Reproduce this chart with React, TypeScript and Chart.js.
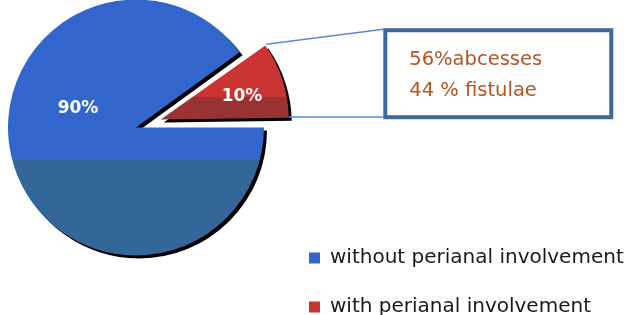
import { useEffect, useRef } from "react";
import { Chart, registerables } from "chart.js";

Chart.register(...registerables);

// ---- data ----
const categories = ["without perianal involvement", "with perianal involvement"];
const values = [90, 10];
const calloutLines = ["56%abcesses", "44 % fistulae"];

// ---- style ----
const TOP_COLORS = ["#3366CC", "#CC3333"];
const BOTTOM_COLORS = ["#336699", "#993333"];
const SPLIT = [0.627, 0.7];
const EXPLODE = [0, 104]; // Chart.js draws offset/4 => 26px
const RADIUS = 128;
const ROTATION = 90;
const LABEL_POS = [
  [-0.453, -0.148],
  [0.635, -0.176],
];
const FONT = '"DejaVu Sans"';
const LEGEND_FONT_SIZE = 20;
const LEGEND_PAD = 29;
const LEGEND_BOX = 11;
const PIE_AREA_W = 288;
const SHIFT_X = 8;
const SHIFT_Y = 91;
const CW = 700;
const CH = 437;

function sliceAngles(i: number) {
  const total = values.reduce((a, b) => a + b, 0);
  let start = ((ROTATION - 90) * Math.PI) / 180;
  for (let k = 0; k < i; k++) start += (values[k] / total) * 2 * Math.PI;
  return [start, start + (values[i] / total) * 2 * Math.PI];
}

function fillFor(c: any) {
  const i = c.dataIndex ?? 0;
  const chart = c.chart;
  const area = chart.chartArea;
  if (c.type !== "data" || !area) return TOP_COLORS[i];
  const cy = (area.top + area.bottom) / 2;
  const [a0, a1] = sliceAngles(i);
  let ymin = cy;
  let ymax = cy;
  for (let t = a0; t <= a1; t += 0.005) {
    const y = cy + RADIUS * Math.sin(t);
    ymin = Math.min(ymin, y);
    ymax = Math.max(ymax, y);
  }
  const yEnd = cy + RADIUS * Math.sin(a1);
  ymin = Math.min(ymin, yEnd);
  ymax = Math.max(ymax, yEnd);
  const g = chart.ctx.createLinearGradient(0, ymin, 0, ymax);
  g.addColorStop(0, TOP_COLORS[i]);
  g.addColorStop(SPLIT[i], TOP_COLORS[i]);
  g.addColorStop(Math.min(1, SPLIT[i] + 0.0001), BOTTOM_COLORS[i]);
  g.addColorStop(1, BOTTOM_COLORS[i]);
  return g;
}

function radiusGrowth(arc: any) {
  const off = (arc.options.offset || 0) / 4;
  const fix = 1 - Math.sin(Math.min(Math.PI, arc.circumference || 0));
  return off * fix;
}

// Chart.js enlarges an exploded slice's radius; keep it equal to the pie's.
const fixRadius = {
  id: "fixRadius",
  afterDatasetsUpdate(chart: any) {
    chart.getDatasetMeta(0).data.forEach((arc: any) => {
      arc.outerRadius = arc.outerRadius - radiusGrowth(arc);
    });
  },
};

const shadow = {
  id: "shadow",
  beforeDatasetsDraw(chart: any) {
    const ctx = chart.ctx;
    ctx.save();
    ctx.shadowColor = "#000";
    ctx.shadowOffsetX = 3;
    ctx.shadowOffsetY = 3;
    ctx.shadowBlur = 0;
  },
  afterDatasetsDraw(chart: any) {
    chart.ctx.restore();
  },
};

function apexOf(arc: any) {
  const off = (arc.options.offset || 0) / 4;
  const mid = (arc.startAngle + arc.endAngle) / 2;
  return { x: arc.x + Math.cos(mid) * off, y: arc.y + Math.sin(mid) * off };
}

const annotations = {
  id: "annotations",
  afterDraw(chart: any) {
    const ctx = chart.ctx;
    const arcs = chart.getDatasetMeta(0).data;
    const total = values.reduce((a, b) => a + b, 0);
    ctx.save();
    // percentage labels
    ctx.fillStyle = "#ffffff";
    ctx.font = `bold 17px ${FONT}`;
    ctx.textAlign = "center";
    ctx.textBaseline = "middle";
    arcs.forEach((arc: any, i: number) => {
      const a = apexOf(arc);
      const r = arc.outerRadius + radiusGrowth(arc);
      ctx.fillText(
        `${Math.round((values[i] / total) * 100)}%`,
        a.x + LABEL_POS[i][0] * r,
        a.y + LABEL_POS[i][1] * r
      );
    });
    // callout for the exploded slice
    const red = arcs[1];
    const a = apexOf(red);
    const r = red.outerRadius + radiusGrowth(red);
    const tip = { x: a.x + r * Math.cos(red.startAngle), y: a.y + r * Math.sin(red.startAngle) };
    const low = { x: a.x + r * Math.cos(red.endAngle - 0.02), y: a.y + r * Math.sin(red.endAngle - 0.02) };
    const bx = tip.x + 119;
    const by = tip.y - 16;
    const bw = 230;
    const bh = 91;
    ctx.strokeStyle = "#5b8ad6";
    ctx.lineWidth = 1.5;
    ctx.beginPath();
    ctx.moveTo(tip.x + 2, tip.y);
    ctx.lineTo(bx, by + 1);
    ctx.moveTo(low.x, low.y);
    ctx.lineTo(bx, low.y);
    ctx.stroke();
    ctx.fillStyle = "#ffffff";
    ctx.fillRect(bx, by, bw, bh);
    ctx.strokeStyle = "#3d6898";
    ctx.lineWidth = 4;
    ctx.strokeRect(bx + 2, by + 2, bw - 4, bh - 4);
    ctx.fillStyle = "#b4561f";
    ctx.font = `19.5px ${FONT}`;
    ctx.textAlign = "left";
    ctx.textBaseline = "alphabetic";
    calloutLines.forEach((t, i) => ctx.fillText(t, bx + 26, by + 37 + i * 31));
    ctx.restore();
  },
};

export default function App() {
  const ref = useRef<HTMLCanvasElement | null>(null);
  useEffect(() => {
    document.body.style.margin = "0";
    const canvas = ref.current!;
    // size the legend column so the pie area keeps its width
    const mctx = document.createElement("canvas").getContext("2d")!;
    mctx.font = `${LEGEND_FONT_SIZE}px ${FONT}`;
    const tw = Math.max(...categories.map((t) => mctx.measureText(t).width));
    const legendW = LEGEND_PAD + LEGEND_BOX + LEGEND_FONT_SIZE / 2 + tw + 10;
    const padRight = Math.max(0, CW - PIE_AREA_W - legendW);
    const chart = new Chart(canvas, {
      type: "pie",
      data: {
        labels: categories,
        datasets: [
          {
            data: values,
            backgroundColor: fillFor as any,
            borderWidth: 0,
            offset: EXPLODE,
            hoverOffset: 0,
            radius: RADIUS,
            rotation: ROTATION,
          } as any,
        ],
      },
      options: {
        animation: false,
        responsive: false,
        events: [],
        layout: { padding: { left: 0, right: padRight, top: 0, bottom: 0 }, autoPadding: false },
        plugins: {
          tooltip: { enabled: false },
          legend: {
            position: "right",
            align: "end",
            maxWidth: 1000,
            labels: {
              boxWidth: LEGEND_BOX,
              boxHeight: LEGEND_BOX,
              padding: LEGEND_PAD,
              color: "#1a1a1a",
              font: { family: FONT, size: LEGEND_FONT_SIZE },
              generateLabels: () =>
                categories.map((t, i) => ({
                  text: t,
                  fillStyle: TOP_COLORS[i],
                  strokeStyle: TOP_COLORS[i],
                  lineWidth: 0,
                  hidden: false,
                  index: i,
                  fontColor: "#1a1a1a",
                })),
            },
          },
        },
      } as any,
      plugins: [fixRadius, shadow, annotations],
    });
    return () => chart.destroy();
  }, []);
  return (
    <div style={{ position: "fixed", left: 0, top: 0, width: 630, height: 315, overflow: "hidden", background: "#fff" }}>
      <canvas
        ref={ref}
        width={CW}
        height={CH}
        style={{ position: "absolute", left: -SHIFT_X, top: -SHIFT_Y, width: CW, height: CH, display: "block" }}
      />
    </div>
  );
}
